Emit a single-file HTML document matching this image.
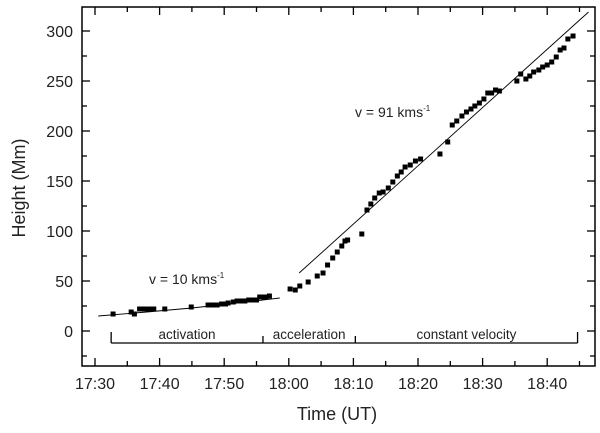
<!DOCTYPE html>
<html><head><meta charset="utf-8"><style>
body{margin:0;background:#fff}
svg{display:block;font-family:"Liberation Sans",Arial,sans-serif}
</style></head><body>
<svg id="chart" width="600" height="433" viewBox="0 0 600 433"></svg>
<script>
const times=[2.8,5.6,6.1,6.9,7.4,8,8.6,9.1,10.8,14.9,17.5,18.2,18.9,19.6,20.2,20.6,21.4,22,22.6,23.2,23.8,24.4,25,25.5,26,26.5,27,30.2,31,31.7,33,34.4,35.3,36,36.8,37.5,38.2,38.7,39.1,41.3,42.1,42.7,43.3,44,44.6,45.4,46.1,46.8,47.4,48,48.8,49.6,50.4,53.4,54.6,55.3,56,56.8,57.5,58.2,58.8,59.5,60.2,60.8,61.4,62,62.6,65.3,65.9,66.7,67.3,67.9,68.7,69.3,70,70.7,71.4,72,72.6,73.2,74];
const heights=[17,19,17,22,22,22,22,22,22,24,26,26,26,27,27,28,29,30,30,30,31,31,31,34,34,34,35,42,41,45,49,55,58,66,73,79,85,90,91,97,121,127,133,138,139,143,149,155,159,164,166,170,172,177,189,206,210,215,219,222,225,228,232,238,238,241,240,250,257,252,255,259,261,264,266,269,274,281,283,292,295];
const slowFitT=[0.5,8,15,22,28.6];
const slowFitH=[15,19,23,28,33];
const fastFitT=[31.6,76.4];
const fastFitH=[58,319];
const xTickLabels=["17:30","17:40","17:50","18:00","18:10","18:20","18:30","18:40"];
const yTickValues=[0,50,100,150,200,250,300];
const phases=["activation","acceleration","constant velocity"];
const phaseBounds=[2.5,26,40.3,74.7];

const X0=82,X1=595,Y0=7,Y1=366;
const sx=t=>95+(t)*6.46;
const sy=h=>331-h;
const svg=document.getElementById('chart');
const NS='http://www.w3.org/2000/svg';
function el(tag,attrs,parent){const e=document.createElementNS(NS,tag);for(const k in attrs)e.setAttribute(k,attrs[k]);(parent||svg).appendChild(e);return e;}

const frame=el('rect',{x:X0,y:Y0,width:X1-X0,height:Y1-Y0,fill:'none',stroke:'#000','stroke-width':1.5});



for(let m=0;m<=75;m+=5){
  const x=sx(m),len=m%10===0?8:5;
  const t1=el('line',{x1:x,y1:Y1,x2:x,y2:Y1-len,stroke:'#000','stroke-width':1.3});
  
  
  const t2=el('line',{x1:x,y1:Y0,x2:x,y2:Y0+len,stroke:'#000','stroke-width':1.3});
  
  
}
xTickLabels.forEach((s,i)=>{
  const tx=el('text',{x:sx(i*10),y:389,'font-size':16,'text-anchor':'middle',fill:'#222'});
  tx.textContent=s;
  
  
});
for(let h=-25;h<=320;h+=25){
  const y=sy(h),len=h%50===0?8:5;
  const a=el('line',{x1:X0,y1:y,x2:X0+len,y2:y,stroke:'#000','stroke-width':1.3});
  
  
  const b=el('line',{x1:X1,y1:y,x2:X1-len,y2:y,stroke:'#000','stroke-width':1.3});
  
  
}
yTickValues.forEach(v=>{
  const tx=el('text',{x:73,y:sy(v)+6,'font-size':16,'text-anchor':'end',fill:'#222'});
  tx.textContent=v;
  
  
});
const xt=el('text',{x:337,y:420,'font-size':18,'text-anchor':'middle',fill:'#222'});
xt.textContent='Time (UT)';


const yt=el('text',{x:0,y:0,'font-size':18,'text-anchor':'middle',fill:'#222',transform:'translate(25,188) rotate(-90)'});
yt.textContent='Height (Mm)';



const sf=el('polyline',{points:slowFitT.map((t,i)=>sx(t)+','+sy(slowFitH[i])).join(' '),fill:'none',stroke:'#000','stroke-width':0.9});


const ff=el('polyline',{points:fastFitT.map((t,i)=>sx(t)+','+sy(fastFitH[i])).join(' '),fill:'none',stroke:'#000','stroke-width':0.9});



times.forEach((t,i)=>{
  const r=el('rect',{x:sx(t)-2.5,y:sy(heights[i])-2.5,width:5,height:5,fill:'#000'});
  
  
});

const by=343;
const bl=el('line',{x1:sx(phaseBounds[0]),y1:by,x2:sx(phaseBounds[3]),y2:by,stroke:'#000','stroke-width':1.3});


phaseBounds.forEach((b,i)=>{
  const top=(i===0||i===3)?332:336;
  const l=el('line',{x1:sx(b),y1:top,x2:sx(b),y2:by,stroke:'#000','stroke-width':1.3});
  
  
});
phases.forEach((p,i)=>{
  const tx=el('text',{x:(sx(phaseBounds[i])+sx(phaseBounds[i+1]))/2,y:339,'font-size':13.5,'text-anchor':'middle',fill:'#222'});
  tx.textContent=p;
  
  
});

function ann(x,y,main,name){
  const tx=el('text',{x:x,y:y,'font-size':14,fill:'#222'});
  
  
  tx.appendChild(document.createTextNode(main));
  const sp=el('tspan',{'font-size':8,dy:-6},tx);sp.textContent='-1';
}
ann(149,284,'v = 10 kms','slow-velocity-annotation');
ann(355,117,'v = 91 kms','fast-velocity-annotation');
</script>
</body></html>
